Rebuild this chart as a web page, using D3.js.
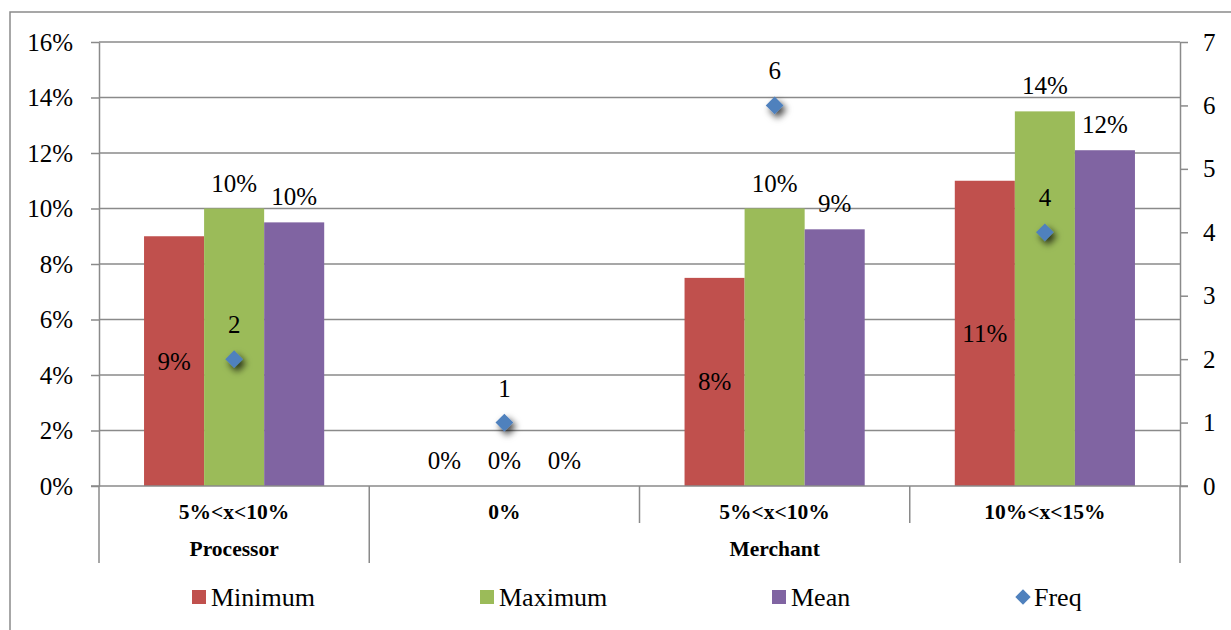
<!DOCTYPE html>
<html>
<head>
<meta charset="utf-8">
<script src="https://cdn.jsdelivr.net/npm/d3@7"></script>
<style>
  html, body { margin: 0; padding: 0; background: #fff; }
</style>
</head>
<body>
<svg id="chart" width="1231" height="630"></svg>
<script>
// ---- data ----
const categories = ["5%<x<10%", "0%", "5%<x<10%", "10%<x<15%"];
const groupNames = ["Processor", "Merchant"];
const groupStart = [0, 1];
const groupEnd = [1, 4];
const seriesNames = ["Minimum", "Maximum", "Mean"];
const minimum = [0.09, 0, 0.075, 0.11];
const maximum = [0.10, 0, 0.10, 0.135];
const mean = [0.095, 0, 0.0925, 0.121];
const freq = [2, 1, 6, 4];
const leftTicks = [0, 0.02, 0.04, 0.06, 0.08, 0.10, 0.12, 0.14, 0.16];
const rightTicks = [0, 1, 2, 3, 4, 5, 6, 7];

// ---- styling ----
const FONT = "'Liberation Serif', Tinos, FreeSerif, 'Times New Roman', serif";
const colors = ["#C0504D", "#9BBB59", "#8064A2"];
const freqColor = "#4F81BD";
const axisColor = "#8a8a8a";

const svg = d3.select("#chart");
const m = { left: 99, right: 1180, top: 42, bottom: 486 };

const defs = svg.append("defs");
const f = defs.append("filter").attr("id", "shadow")
  .attr("x", "-100%").attr("y", "-100%").attr("width", "300%").attr("height", "300%");
f.append("feDropShadow").attr("dx", 3).attr("dy", 4).attr("stdDeviation", 3.5)
  .attr("flood-color", "#000").attr("flood-opacity", 0.75);

// outer border
svg.append("rect").attr("x", 10).attr("y", 12).attr("width", 1250).attr("height", 650)
  .attr("fill", "none").attr("stroke", axisColor).attr("stroke-width", 1.5);

const x0 = d3.scaleBand().domain(d3.range(categories.length)).range([m.left, m.right]).padding(0);
const x1 = d3.scaleBand().domain(d3.range(seriesNames.length))
  .range([0, x0.bandwidth()]).paddingOuter(0.75).paddingInner(0);
const y = d3.scaleLinear().domain([0, 0.16]).range([m.bottom, m.top]);
const yR = d3.scaleLinear().domain([0, 7]).range([m.bottom, m.top]);

// gridlines
svg.append("g").selectAll("line").data(leftTicks.slice(1)).join("line")
  .attr("x1", m.left).attr("x2", m.right)
  .attr("y1", d => y(d)).attr("y2", d => y(d))
  .attr("stroke", axisColor).attr("stroke-width", 1.5);

// left axis
const pct = v => Math.round(v * 100 + 1e-9) + "%";
const gL = svg.append("g").attr("transform", `translate(${m.left},0)`)
  .call(d3.axisLeft(y).tickValues(leftTicks).tickFormat(d3.format(".0%")).tickSize(8).tickSizeOuter(0).tickPadding(18));
// right axis
const gR = svg.append("g").attr("transform", `translate(${m.right},0)`)
  .call(d3.axisRight(yR).tickValues(rightTicks).tickFormat(d3.format("d")).tickSize(8).tickSizeOuter(0).tickPadding(15));
[gL, gR].forEach(g => {
  g.attr("font-family", null).attr("font-size", null);
  g.selectAll("path.domain").attr("stroke", axisColor).attr("stroke-width", 1.5);
  g.selectAll(".tick line").attr("stroke", axisColor).attr("stroke-width", 1.5);
  g.selectAll("text").style("font-family", FONT).style("font-size", "25px").attr("fill", "#000");
});

// bars
const series = [minimum, maximum, mean];
const barG = svg.append("g");
series.forEach((vals, s) => {
  barG.selectAll(null).data(vals.map((v, i) => ({ v, i }))).join("rect")
    .attr("x", d => x0(d.i) + x1(s))
    .attr("width", x1.bandwidth())
    .attr("y", d => y(d.v))
    .attr("height", d => y(0) - y(d.v))
    .attr("fill", colors[s]);
});

// baseline axis (category axis)
svg.append("line").attr("x1", m.left - 8).attr("x2", m.right + 8)
  .attr("y1", m.bottom).attr("y2", m.bottom)
  .attr("stroke", axisColor).attr("stroke-width", 1.5);

// category separators
const sepX = d3.range(categories.length + 1);
svg.append("g").selectAll("line").data(sepX).join("line")
  .attr("x1", i => i < categories.length ? x0(i) : m.right)
  .attr("x2", i => i < categories.length ? x0(i) : m.right)
  .attr("y1", m.bottom)
  .attr("y2", i => (groupStart.includes(i) || i === categories.length) ? 563 : 523)
  .attr("stroke", axisColor).attr("stroke-width", 1.5);

// category labels
svg.append("g").selectAll("text").data(categories).join("text")
  .attr("x", (d, i) => x0(i) + x0.bandwidth() / 2)
  .attr("y", 519)
  .attr("text-anchor", "middle")
  .style("font-family", FONT).style("font-weight", "bold").style("font-size", "21.5px")
  .text(d => d);

// group labels
svg.append("g").selectAll("text").data(groupNames).join("text")
  .attr("x", (d, i) => (x0(groupStart[i]) + (groupEnd[i] < categories.length ? x0(groupEnd[i]) : m.right)) / 2)
  .attr("y", 556)
  .attr("text-anchor", "middle")
  .style("font-family", FONT).style("font-weight", "bold").style("font-size", "21.5px")
  .text(d => d);

// bar labels
const lblG = svg.append("g");
series.forEach((vals, s) => {
  lblG.selectAll(null).data(vals.map((v, i) => ({ v, i }))).join("text")
    .attr("x", d => x0(d.i) + x1(s) + x1.bandwidth() / 2)
    .attr("y", d => {
      if (s === 0 && d.v > 0) return (y(d.v) + y(0)) / 2 + 8.5;
      return y(d.v) - 17;
    })
    .attr("text-anchor", "middle")
    .style("font-family", FONT).style("font-size", "25px")
    .text(d => pct(d.v));
});

// freq markers
const fG = svg.append("g");
fG.selectAll("path").data(freq).join("path")
  .attr("d", d3.symbol().type(d3.symbolDiamond2).size(200))
  .attr("transform", (d, i) => `translate(${x0(i) + x0.bandwidth() / 2},${yR(d)})`)
  .attr("fill", freqColor)
  .attr("filter", "url(#shadow)");
fG.selectAll("text").data(freq).join("text")
  .attr("x", (d, i) => x0(i) + x0.bandwidth() / 2)
  .attr("y", d => yR(d) - 26)
  .attr("text-anchor", "middle")
  .style("font-family", FONT).style("font-size", "25px")
  .text(d => d);

// legend
const legendItems = ["Minimum", "Maximum", "Mean", "Freq"];
const legendX = [192, 480, 772, 1013];
const legend = svg.append("g");
legendItems.forEach((name, i) => {
  const g = legend.append("g").attr("transform", `translate(${legendX[i]},597)`);
  if (i < 3) {
    g.append("rect").attr("x", 0).attr("y", -7).attr("width", 14).attr("height", 14).attr("fill", colors[i]);
  } else {
    g.append("path").attr("d", d3.symbol().type(d3.symbolDiamond2).size(150))
      .attr("transform", "translate(10,0)").attr("fill", freqColor);
  }
  g.append("text").attr("x", i < 3 ? 19 : 21).attr("y", 9)
    .style("font-family", FONT).style("font-size", "26px").text(name);
});
</script>
</body>
</html>
